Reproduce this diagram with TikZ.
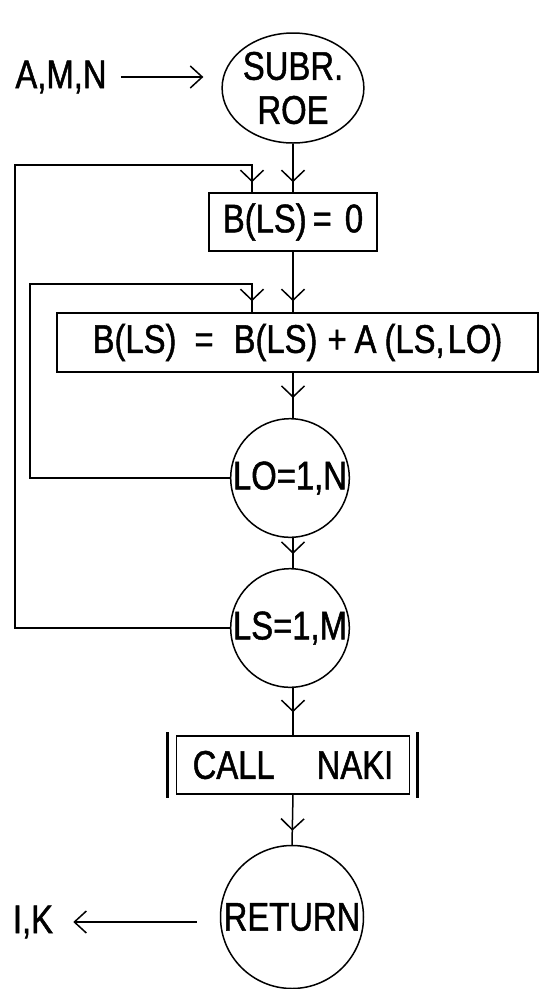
\documentclass[tikz,border=0pt]{standalone}
\usepackage{fontspec}
\setmainfont{Liberation Sans}[FakeStretch=0.82,FakeBold=1.2]
\usetikzlibrary{arrows.meta,decorations.markings,shapes.geometric,calc}
\begin{document}
\begin{tikzpicture}[x=1pt,y=-1pt,
  lw/.style={line width=1.5pt},
  every node/.style={font=\fontsize{40}{44}\selectfont, inner sep=0pt},
  procbox/.style={draw,lw,rectangle,minimum height=58pt},
  loopcirc/.style={draw,lw,circle,minimum size=#1},
  tipend/.style={-{Straight Barb[length=12pt,width=22pt]}},
  vhead/.style={postaction={decorate},decoration={markings,mark=at position -#1 with {\arrow{Straight Barb[length=11pt,width=23pt]}}}}
]
\useasboundingbox (0,0) rectangle (541,989);
% nodes
\node (amn) at (61,77) {A,M,N};
\node[draw,lw,ellipse,minimum width=128pt,minimum height=110pt,align=center] (subr) at (293,88) {SUBR.\\ROE};
\node[procbox,minimum width=168pt] (b0) at (293,222) {B(LS)\hspace{6pt}=\hspace{13pt}0};
\node[procbox,minimum width=481pt,minimum height=59pt] (bsum) at (297.5,342.5) {B(LS)\hspace{18pt}=\hspace{20pt}B(LS)\hspace{10pt}+\hspace{8pt}A\hspace{8pt}(LS,\hspace{3pt}LO)\hspace{16pt}};
\node[loopcirc=110pt] (lo) at (290,478) {LO=1,N};
\node[loopcirc=112pt] (ls) at (290,628) {LS=1,M};
\node[procbox,minimum width=233pt] (call) at (293,765) {CALL\hspace{42pt}NAKI};
\node[loopcirc=143pt] (ret) at (292,917) {RETURN};
\node (ik) at (33,922) {I,K};
% double bars of the call box
\draw[line width=2.6pt] ($(call.north west)+(-8,-3)$) -- ($(call.south west)+(-8,3)$);
\draw[line width=2.6pt] ($(call.north east)+(7,-3)$) -- ($(call.south east)+(7,3)$);
% loop coordinates
\coordinate (outerc) at (15,165);
\coordinate (innerc) at (30,284);
\coordinate (entry) at (252,0);
% connectors
\draw[lw,tipend] ($(amn.east)+(14,0)$) -- ($(amn.east -| subr.west)+(-18,0)$);
\draw[lw,vhead=10pt] (subr.south) -- (b0.north);
\draw[lw,vhead=11pt] (b0.south) -- (b0.south |- bsum.north);
\draw[lw,vhead=20pt] (b0.south |- bsum.south) -- (b0.south |- lo.north);
\draw[lw,vhead=14pt] (b0.south |- lo.south) -- (b0.south |- ls.north);
\draw[lw,vhead=23pt] (b0.south |- ls.south) -- (call.north);
\draw[lw,vhead=14pt] (call.south) -- (ret.north);
\draw[lw,vhead=10pt] (ls.west) -| (outerc) -| (entry |- b0.north);
\draw[lw,vhead=11pt] (lo.west) -| (innerc) -| (entry |- bsum.north);
\draw[lw,tipend] ($(ret.west |- ik.east)+(-23,0)$) -- ($(ik.east)+(20,0)$);
\end{tikzpicture}
\end{document}
